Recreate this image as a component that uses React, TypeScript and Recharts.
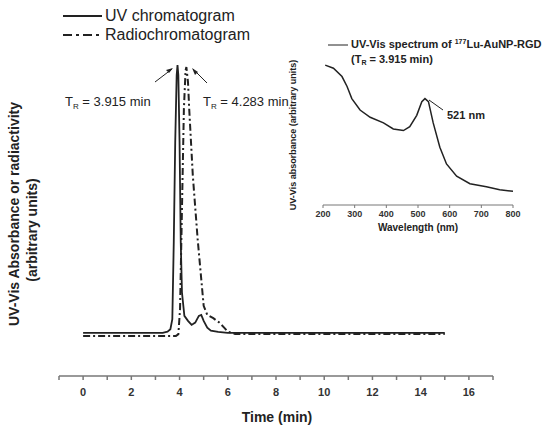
import { Line, LineChart, XAxis, YAxis } from 'recharts'

// main chromatograms (time in min, signal in arbitrary units)
const uvTime = [0, 3.3, 3.5, 3.62, 3.7, 3.76, 3.82, 3.88, 3.915, 3.95, 4.0, 4.05, 4.1, 4.2, 4.35, 4.5, 4.65, 4.8, 4.9, 5.0, 5.15, 5.3, 5.6, 6.0, 15]
const uvSignal = [12.9, 12.9, 13.3, 14.0, 17, 40, 70, 90, 93.1, 90, 70, 40, 25, 18, 16.5, 15.3, 16, 18, 18.3, 16.5, 14.5, 13.6, 13.2, 12.9, 12.9]

const radioTime = [0, 3.85, 3.95, 4.02, 4.1, 4.18, 4.25, 4.283, 4.35, 4.4, 4.55, 4.75, 5.0, 5.15, 5.4, 5.65, 5.85, 6.0, 6.3, 15]
const radioSignal = [12.0, 12.0, 12.5, 20, 50, 80, 91.5, 92.5, 88, 80, 60, 41, 21, 18.3, 17.3, 16, 14.5, 13.3, 12.6, 12.6]

const timeTicks = [-1, 0, 1, 2, 3, 4, 5, 6, 7, 8, 9, 10, 11, 12, 13, 14, 15, 16, 17]

// inset UV-Vis spectrum
const wavelength = [207, 233, 260, 276, 291, 317, 349, 391, 422, 454, 474, 496, 512, 522, 533, 548, 569, 590, 622, 664, 716, 758, 800]
const absorbance = [0.92, 0.9, 0.845, 0.78, 0.7, 0.625, 0.577, 0.54, 0.5, 0.49, 0.515, 0.59, 0.68, 0.7, 0.68, 0.54, 0.38, 0.27, 0.19, 0.14, 0.12, 0.1, 0.09]
const wavelengthTicks = [200, 300, 400, 500, 600, 700, 800]

const uvData = uvTime.map((t, i) => ({ t, v: uvSignal[i] }))
const radioData = radioTime.map((t, i) => ({ t, v: radioSignal[i] }))
const spectrumData = wavelength.map((w, i) => ({ w, a: absorbance[i] }))

const font = 'Arial, "Liberation Sans", sans-serif'
const ink = '#222'
const axisColor = '#777'

export default function App() {
  return (
    <div style={{ position: 'absolute', left: 0, top: 0, width: 546, height: 426, background: '#fff', fontFamily: font }}>
      <div style={{ position: 'absolute', left: 0, top: 0 }}>
        <LineChart width={546} height={426} margin={{ top: 42, right: 53, bottom: 20, left: 59 }}>
          <XAxis
            type="number"
            dataKey="t"
            domain={[-1, 17]}
            ticks={timeTicks}
            interval={0}
            height={30}
            tickSize={4}
            tickMargin={8}
            stroke={axisColor}
            strokeWidth={1.5}
            tickFormatter={(v) => (v >= 0 && v <= 16 && v % 2 === 0 ? String(v) : '')}
            tick={{ fontSize: 11, fontWeight: 700, fill: '#333', fontFamily: font }}
            allowDuplicatedCategory={false}
          />
          <YAxis type="number" domain={[0, 100]} width={0} tick={false} tickLine={false} stroke={axisColor} strokeWidth={1.5} />
          <Line data={uvData} dataKey="v" type="linear" stroke={ink} strokeWidth={1.8} dot={false} isAnimationActive={false} />
          <Line data={radioData} dataKey="v" type="linear" stroke={ink} strokeWidth={2} strokeDasharray="7 3 2 3" dot={false} isAnimationActive={false} />
        </LineChart>
      </div>

      <div style={{ position: 'absolute', left: 280, top: 30 }}>
        <LineChart width={266} height={210} margin={{ top: 23, right: 33, bottom: 15, left: 43 }} data={spectrumData}>
          <XAxis
            type="number"
            dataKey="w"
            domain={[200, 800]}
            ticks={wavelengthTicks}
            interval={0}
            height={20}
            tickSize={3}
            tickMargin={3}
            stroke={axisColor}
            tick={{ fontSize: 9, fontWeight: 700, fill: '#333', fontFamily: font }}
          />
          <YAxis type="number" domain={[0, 1]} width={0} tick={false} tickLine={false} stroke={axisColor} />
          <Line dataKey="a" type="linear" stroke={ink} strokeWidth={1.5} dot={false} isAnimationActive={false} />
        </LineChart>
      </div>

      <svg width={546} height={426} style={{ position: 'absolute', left: 0, top: 0, pointerEvents: 'none' }} fontFamily={font}>
        {/* legend */}
        <line x1={63} y1={16} x2={102} y2={16} stroke={ink} strokeWidth={2} />
        <text x={105} y={21} fontSize={16} fill={ink}>UV chromatogram</text>
        <line x1={63} y1={35} x2={102} y2={35} stroke={ink} strokeWidth={2} strokeDasharray="9 4 3 4" />
        <text x={105} y={40} fontSize={16} fill={ink}>Radiochromatogram</text>

        {/* peak annotations */}
        <text x={65} y={106} fontSize={13} fill={ink}>
          T<tspan fontSize={8} dy={3}>R</tspan>
          <tspan dy={-3}> = 3.915 min</tspan>
        </text>
        <line x1={155} y1={82} x2={172} y2={69} stroke={ink} strokeWidth={1} />
        <path d="M173,68 L166,70 L169,73 Z" fill={ink} />
        <text x={203} y={106} fontSize={13} fill={ink}>
          T<tspan fontSize={8} dy={3}>R</tspan>
          <tspan dy={-3}> = 4.283 min</tspan>
        </text>
        <line x1={207} y1={83} x2={193} y2={69} stroke={ink} strokeWidth={1} />
        <path d="M192,68 L195,75 L198,72 Z" fill={ink} />

        {/* main axis titles */}
        <text x={277} y={422} fontSize={14} fontWeight={700} fill={ink} textAnchor="middle">Time (min)</text>
        <text transform="translate(19,214) rotate(-90)" fontSize={14} fontWeight={700} fill={ink} textAnchor="middle">
          UV-Vis Absorbance or radiactivity
        </text>
        <text transform="translate(37,230) rotate(-90)" fontSize={14} fontWeight={700} fill={ink} textAnchor="middle">
          (arbitrary units)
        </text>

        {/* inset legend and labels */}
        <line x1={328} y1={45} x2={348} y2={45} stroke={ink} strokeWidth={1} />
        <text x={351} y={48} fontSize={11} fontWeight={700} fill={ink}>
          UV-Vis spectrum of <tspan fontSize={7} dy={-4}>177</tspan>
          <tspan dy={4}>Lu-AuNP-RGD</tspan>
        </text>
        <text x={351} y={63} fontSize={11} fontWeight={700} fill={ink}>
          (T<tspan fontSize={7} dy={2}>R</tspan>
          <tspan dy={-2}> = 3.915 min)</tspan>
        </text>
        <line x1={429} y1={100} x2={443} y2={110} stroke={ink} strokeWidth={1} />
        <text x={447} y={119} fontSize={11} fontWeight={700} fill={ink}>521 nm</text>
        <text x={418} y={231} fontSize={10} fontWeight={700} fill={ink} textAnchor="middle">Wavelength (nm)</text>
        <text transform="translate(296,135) rotate(-90)" fontSize={9} fontWeight={700} fill={ink} textAnchor="middle">
          UV-Vis absorbance (arbitrary units)
        </text>
      </svg>
    </div>
  )
}
